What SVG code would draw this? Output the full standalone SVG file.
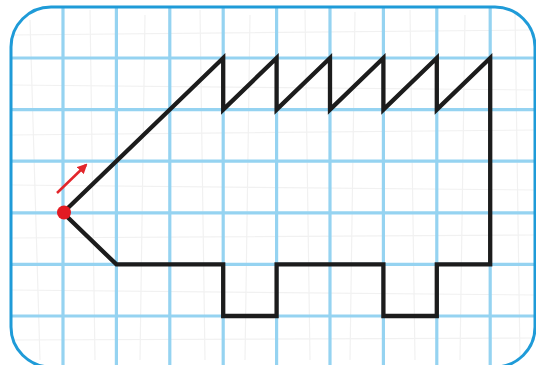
<svg xmlns="http://www.w3.org/2000/svg" width="536" height="365" viewBox="0 0 536 365">
<defs>
<style>
.grid{stroke:#95d3f1;stroke-width:3.2;fill:none}
.faint{stroke:#f1f1f1;stroke-width:1.2;fill:none}
.shape{stroke:#1c1c1c;stroke-width:4.3;fill:none;stroke-linejoin:miter;stroke-linecap:square}
</style>
<clipPath id="card"><rect x="11" y="7" width="524" height="360" rx="40"/></clipPath>
<marker id="ah" viewBox="0 0 10 10" refX="8" refY="5" markerWidth="4" markerHeight="4" orient="auto"><path d="M0,0 L10,5 L0,10 z" fill="#e2262b"/></marker>
</defs>
<rect width="536" height="365" fill="#ffffff"/>
<g id="paper" clip-path="url(#card)">
<rect x="11" y="7" width="524" height="360" fill="#ffffff"/>
<g class="faint">
<path d="M30,20 L40,360 M90,10 L95,360 M145,15 L140,360 M200,10 L205,360 M250,15 L245,360 M305,10 L310,360 M355,12 L350,360 M410,10 L415,360 M465,15 L460,360 M515,10 L520,360"/>
<path d="M11,35 L535,30 M11,85 L535,90 M11,135 L535,130 M11,185 L535,190 M11,238 L535,235 M11,290 L535,295 M11,340 L535,338"/>
</g>
<g class="grid">
<path d="M10,0 V365 M63,0 V365 M116.4,0 V365 M169.8,0 V365 M223.2,0 V365 M276.6,0 V365 M330,0 V365 M383.4,0 V365 M436.8,0 V365 M490.2,0 V365"/>
<path d="M0,6.4 H536 M0,58 H536 M0,109.6 H536 M0,161.2 H536 M0,212.8 H536 M0,264.4 H536 M0,316 H536"/>
</g>
</g>
<rect id="border" x="11" y="7" width="524" height="360" rx="40" fill="none" stroke="#1f9bd8" stroke-width="3"/>
<g id="figure">
<path class="shape" d="M63,212.8 L223.2,58 V109.6 L276.6,58 V109.6 L330,58 V109.6 L383.4,58 V109.6 L436.8,58 V109.6 L490.2,58 V264.4 H436.8 V316 H383.4 V264.4 H276.6 V316 H223.2 V264.4 H116.4 Z"/>
</g>
<g id="start">
<line x1="57" y1="193" x2="86" y2="165" stroke="#e2262b" stroke-width="2.5" marker-end="url(#ah)"/>
<circle cx="64" cy="212.5" r="7" fill="#e31b23"/>
</g>
</svg>
